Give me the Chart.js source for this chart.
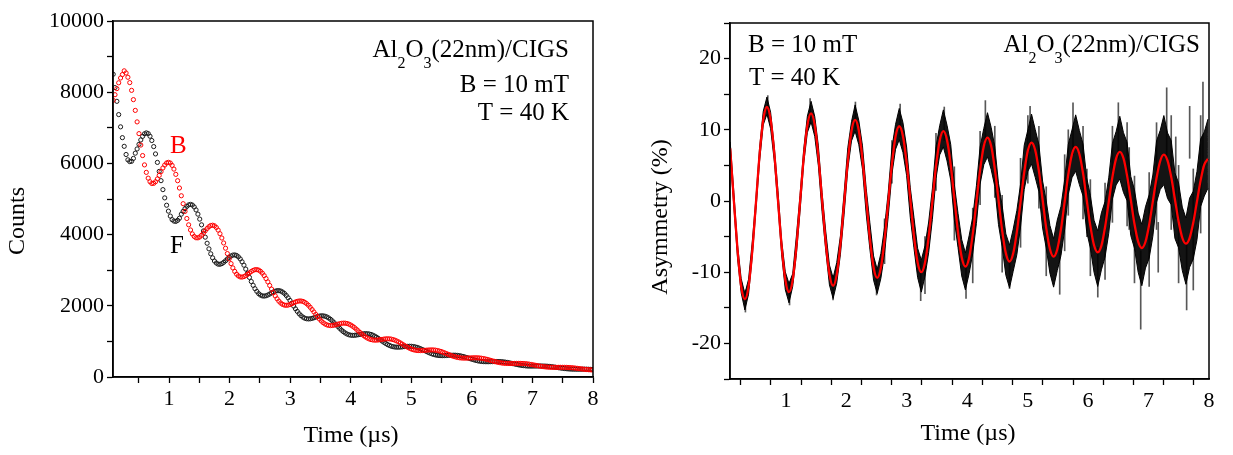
<!DOCTYPE html>
<html lang="en">

<head>
    <meta charset="UTF-8">
    <title>Al2O3(22nm)/CIGS - muSR</title>
    <script src="https://cdn.jsdelivr.net/npm/chart.js@4.4.1/dist/chart.umd.min.js"></script>
    <style>
        body { margin: 0; background: #fff; }
        #left { position: absolute; left: 0; top: 0; }
        #right { position: absolute; left: 616px; top: 0; }
    </style>
</head>

<body>
    <canvas id="left" width="616" height="455"></canvas>
    <canvas id="right" width="617" height="455"></canvas>

    <script>
        // time bins (us), shared by both panels
        const times = [
            0.078, 0.139, 0.200, 0.260, 0.321, 0.382, 0.443, 0.504, 0.564, 0.625,
            0.686, 0.747, 0.808, 0.868, 0.929, 0.990, 1.051, 1.112, 1.172, 1.233, 1.294, 1.355,
            1.416, 1.477, 1.537, 1.598, 1.659, 1.720, 1.781, 1.841, 1.902, 1.963, 2.024, 2.085,
            2.145, 2.206, 2.267, 2.328, 2.389, 2.450, 2.510, 2.571, 2.632, 2.693, 2.754, 2.814,
            2.875, 2.936, 2.997, 3.058, 3.118, 3.179, 3.240, 3.301, 3.362, 3.423, 3.483, 3.544,
            3.605, 3.666, 3.727, 3.787, 3.848, 3.909, 3.970, 4.031, 4.091, 4.152, 4.213, 4.274,
            4.335, 4.396, 4.456, 4.517, 4.578, 4.639, 4.700, 4.760, 4.821, 4.882, 4.943, 5.003,
            5.064, 5.125, 5.186, 5.247, 5.307, 5.368, 5.429, 5.490, 5.551, 5.612, 5.672, 5.733,
            5.794, 5.855, 5.916, 5.976, 6.037, 6.098, 6.159, 6.220, 6.280, 6.341, 6.402, 6.463,
            6.524, 6.585, 6.645, 6.706, 6.767, 6.828, 6.889, 6.949, 7.010, 7.071, 7.132, 7.193,
            7.253, 7.314, 7.375, 7.436, 7.497, 7.558, 7.618, 7.679, 7.740, 7.801, 7.862, 7.922,
            7.983
        ];
        // in-between bins of the count histograms
        const timesMid = [
            0.108, 0.169, 0.230, 0.291, 0.352, 0.412, 0.473, 0.534, 0.595, 0.656,
            0.716, 0.777, 0.838, 0.899, 0.960, 1.021, 1.081, 1.142, 1.203, 1.264, 1.324, 1.385,
            1.446, 1.507, 1.568, 1.629, 1.689, 1.750, 1.811, 1.872, 1.933, 1.993, 2.054, 2.115,
            2.176, 2.237, 2.297, 2.358, 2.419, 2.480, 2.541, 2.601, 2.662, 2.723, 2.784, 2.845,
            2.906, 2.966, 3.027, 3.088, 3.149, 3.210, 3.270, 3.331, 3.392, 3.453, 3.514, 3.574,
            3.635, 3.696, 3.757, 3.818, 3.879, 3.939, 4.000, 4.061, 4.122, 4.183, 4.243, 4.304,
            4.365, 4.426, 4.487, 4.548, 4.608, 4.669, 4.730, 4.791, 4.851, 4.912, 4.973, 5.034,
            5.095, 5.155, 5.216, 5.277, 5.338, 5.399, 5.459, 5.520, 5.581, 5.642, 5.703, 5.764,
            5.824, 5.885, 5.946, 6.007, 6.068, 6.128, 6.189, 6.250, 6.311, 6.372, 6.432, 6.493,
            6.554, 6.615, 6.676, 6.737, 6.797, 6.858, 6.919, 6.980, 7.041, 7.101, 7.162, 7.223,
            7.284, 7.345, 7.405, 7.466, 7.527, 7.588, 7.649, 7.710, 7.770, 7.831, 7.892, 7.953
        ];

        // forward counter (black)
        const countsF = [
            8504, 7744, 7027, 6480, 6100, 6060, 6287, 6535, 6760, 6857,
            6763, 6472, 6028, 5515, 5031, 4659, 4420, 4370, 4460, 4654, 4793, 4848,
            4777, 4575, 4274, 3928, 3600, 3347, 3201, 3167, 3220, 3315, 3399, 3429,
            3375, 3236, 3031, 2797, 2575, 2403, 2301, 2273, 2303, 2361, 2411, 2426,
            2386, 2290, 2151, 1992, 1842, 1724, 1653, 1631, 1647, 1681, 1711, 1717,
            1688, 1621, 1526, 1419, 1317, 1236, 1186, 1169, 1177, 1197, 1215, 1216,
            1195, 1148, 1084, 1010, 941, 886, 851, 838, 841, 853, 862, 862,
            846, 814, 769, 720, 672, 634, 610, 600, 601, 607, 612, 611,
            599, 577, 546, 512, 480, 454, 437, 430, 429, 432, 435, 433,
            424, 409, 388, 365, 343, 325, 313, 307, 307, 308, 309, 307,
            301, 290, 276, 260, 245, 233, 224, 220, 219, 219, 220, 218,
            213
        ];
        const countsFMid = [
            8129, 7371, 6723, 6250, 6050, 6140, 6406, 6659, 6831, 6838,
            6643, 6266, 5775, 5263, 4825, 4520, 4380, 4400, 4574, 4731, 4835, 4831,
            4693, 4435, 4103, 3757, 3461, 3258, 3170, 3184, 3265, 3362, 3424, 3414,
            3317, 3141, 2916, 2682, 2480, 2342, 2278, 2282, 2330, 2389, 2425, 2414,
            2346, 2225, 2072, 1914, 1777, 1682, 1636, 1635, 1663, 1698, 1719, 1708,
            1659, 1577, 1473, 1366, 1273, 1207, 1174, 1171, 1187, 1207, 1218, 1209,
            1175, 1118, 1047, 974, 911, 865, 842, 838, 846, 858, 864, 856,
            832, 793, 744, 695, 652, 620, 603, 599, 604, 610, 613, 606,
            589, 562, 530, 496, 466, 444, 432, 429, 431, 434, 435, 430,
            417, 399, 377, 354, 333, 318, 309, 306, 307, 309, 308, 305,
            296, 283, 268, 252, 238, 228, 221, 219, 219, 220, 219, 216
        ];

        // backward counter (red)
        const countsB = [
            7771, 8100, 8399, 8600, 8420, 8052, 7489, 6836, 6220, 5748,
            5485, 5440, 5564, 5769, 5954, 6030, 5944, 5692, 5309, 4868, 4452, 4130,
            3948, 3909, 3982, 4108, 4222, 4264, 4200, 4025, 3765, 3467, 3185, 2966,
            2839, 2807, 2849, 2926, 2995, 3016, 2968, 2848, 2671, 2469, 2278, 2129,
            2040, 2014, 2037, 2084, 2125, 2135, 2099, 2016, 1895, 1758, 1629, 1527,
            1465, 1444, 1456, 1484, 1508, 1512, 1485, 1427, 1345, 1252, 1164, 1094,
            1051, 1035, 1041, 1057, 1071, 1071, 1051, 1011, 955, 892, 832, 784,
            754, 742, 744, 753, 760, 759, 744, 717, 678, 635, 594, 562,
            540, 531, 531, 536, 540, 538, 527, 508, 482, 452, 424, 402,
            387, 380, 379, 382, 383, 381, 374, 360, 342, 322, 303, 288,
            277, 272, 271, 272, 272, 271, 265, 256, 243, 229, 216, 206,
            198
        ];
        const countsBMid = [
            7929, 8264, 8495, 8540, 8269, 7791, 7166, 6515, 5958, 5586,
            5435, 5484, 5662, 5871, 6012, 6011, 5840, 5514, 5091, 4652, 4275, 4019,
            3910, 3934, 4042, 4171, 4256, 4247, 4127, 3904, 3618, 3320, 3064, 2889,
            2811, 2820, 2885, 2964, 3014, 3003, 2917, 2765, 2571, 2370, 2196, 2076,
            2019, 2020, 2059, 2107, 2135, 2124, 2063, 1959, 1827, 1691, 1573, 1490,
            1450, 1447, 1469, 1498, 1513, 1503, 1460, 1389, 1299, 1207, 1126, 1069,
            1040, 1036, 1048, 1065, 1073, 1064, 1034, 985, 924, 861, 806, 766,
            745, 741, 748, 757, 761, 754, 732, 698, 657, 614, 576, 549,
            534, 530, 533, 538, 540, 534, 519, 496, 467, 438, 412, 393,
            382, 379, 380, 383, 383, 378, 368, 352, 332, 312, 295, 282,
            274, 271, 271, 272, 272, 268, 261, 250, 236, 223, 211, 202
        ];

        // asymmetry fit (%)
        const asymFit = [
            7.4, 0.0, -6.9, -12.0, -13.8, -12.0, -7.05, -0.3, 6.45, 11.4,
            13.2, 11.46, 6.7, 0.2, -6.3, -11.06, -12.8, -11.12, -6.53, -0.25, 6.03, 10.62,
            12.3, 10.68, 6.25, 0.2, -5.85, -10.28, -11.9, -10.34, -6.08, -0.25, 5.58, 9.84,
            11.4, 9.91, 5.85, 0.3, -5.25, -9.31, -10.8, -9.37, -5.48, -0.15, 5.18, 9.07,
            10.5, 9.13, 5.38, 0.25, -4.88, -8.63, -10.0, -8.67, -5.05, -0.1, 4.85, 8.47,
            9.8, 8.53, 5.05, 0.3, -4.45, -7.93, -9.2, -7.99, -4.68, -0.15, 4.38, 7.69,
            8.9, 7.73, 4.55, 0.2, -4.15, -7.33, -8.5, -7.38, -4.33, -0.15, 4.03, 7.08,
            8.2, 7.13, 4.2, 0.2, -3.8, -6.73, -7.8, -6.77, -3.95, -0.1, 3.75, 6.57,
            7.6, 6.61, 3.9, 0.2, -3.5, -6.21, -7.2, -6.26, -3.68, -0.15, 3.38, 5.95,
            6.9, 6.0, 3.53, 0.15, -3.23, -5.7, -6.6, -5.72, -3.33, -0.05, 3.23, 5.62,
            6.5, 5.66, 3.38, 0.25, -2.88, -5.16, -6.0, -5.2, -3.03, -0.05, 2.93, 5.1,
            5.9
        ];

        // spread of the measured asymmetry above / below the fit
        const asymErrUp = [
            0.9, 1.2, 0.7, 1.1, 0.8, 1.0, 1.3, 0.7, 1.0, 1.2,
            1.4, 1.0, 0.9, 1.3, 0.8, 1.1, 1.2, 0.9, 1.5, 1.0, 1.2, 1.3,
            1.7, 1.2, 1.5, 1.0, 1.6, 1.3, 1.1, 1.7, 1.2, 1.4, 1.9, 1.3,
            2.1, 1.4, 1.9, 1.5, 2.2, 1.6, 1.2, 2.0, 1.8, 1.4, 2.3, 1.7,
            2.5, 1.9, 2.2, 1.6, 2.6, 2.0, 1.7, 2.4, 2.1, 1.8, 2.8, 2.1,
            3.0, 2.1, 2.9, 2.0, 2.7, 2.5, 1.9, 3.1, 2.4, 2.3, 3.2, 2.5,
            3.5, 2.6, 3.1, 2.3, 3.5, 2.7, 2.3, 3.4, 3.0, 2.5, 3.8, 2.9,
            4.0, 2.9, 3.7, 2.6, 3.8, 3.3, 2.5, 4.1, 3.2, 3.1, 4.2, 3.4,
            4.5, 3.3, 4.1, 3.1, 4.3, 3.5, 3.0, 4.6, 3.6, 3.4, 4.7, 3.8,
            5.0, 3.6, 4.7, 3.3, 4.8, 4.0, 3.3, 4.9, 4.2, 3.7, 5.2, 4.3,
            5.5, 3.9, 5.1, 3.7, 5.4, 4.3, 3.6, 5.6, 4.4, 4.2, 5.8, 4.6,
            5.6
        ];
        const asymErrDn = [
            1.0, 0.8, 1.2, 0.9, 1.5, 1.1, 0.8, 1.0, 0.9, 0.7,
            1.0, 1.3, 1.1, 0.8, 1.2, 1.4, 1.5, 0.9, 1.1, 1.3, 0.8, 1.0,
            1.2, 1.6, 1.3, 1.7, 1.1, 1.5, 1.8, 1.2, 1.4, 1.6, 1.1, 1.4,
            1.6, 2.0, 1.4, 2.1, 1.5, 1.8, 2.2, 1.5, 1.9, 2.0, 1.4, 1.8,
            1.9, 2.3, 1.8, 2.6, 1.7, 2.1, 2.8, 1.9, 2.2, 2.5, 1.7, 2.0,
            2.2, 2.9, 2.1, 3.0, 2.1, 2.6, 3.3, 2.2, 2.7, 3.0, 2.0, 2.6,
            2.7, 3.3, 2.5, 3.5, 2.3, 3.1, 3.7, 2.5, 3.2, 3.5, 2.4, 2.9,
            3.0, 3.8, 2.9, 4.0, 2.8, 3.4, 4.3, 3.0, 3.7, 3.9, 2.8, 3.3,
            3.4, 4.3, 3.2, 4.5, 3.1, 3.8, 4.8, 3.4, 4.2, 4.4, 3.1, 3.7,
            3.8, 4.8, 3.5, 5.0, 3.4, 4.3, 5.3, 3.7, 4.7, 4.9, 3.4, 4.0,
            4.2, 5.3, 3.9, 5.5, 3.7, 4.6, 5.7, 4.1, 5.1, 5.4, 3.7, 4.4,
            4.1
        ];

        // isolated noisy bins (grey error bars)
        const spikeTimes = [0.33, 0.70, 1.06, 1.40, 1.78, 2.15, 2.50, 2.89, 3.23, 3.62, 3.98, 4.30,
            4.70, 5.04, 5.53, 5.75, 5.98, 6.16, 6.50, 6.68, 6.87, 7.16, 7.30, 7.45, 7.63, 7.68, 7.90,
            2.632, 2.754, 3.301, 3.483, 3.787, 4.091, 4.213, 4.456, 4.578, 4.882, 5.003, 5.186,
            5.307, 5.612, 5.672, 5.916, 6.037, 6.280, 6.402, 6.645, 6.767, 7.010, 7.132, 7.375,
            7.497, 7.740, 7.862];
        const spikeLo = [-15.6, 12.0, -14.6, 11.0, -13.9, 10.0, -13.2, 9.0, -14.0, 8.5, -13.7, 8.0,
            -12.3, 7.0, -13.1, 6.5, -5.0, -13.5, 6.0, -4.0, -18.0, -10.0, 6.0, -2.5, -15.3, 6.0, 5.0,
            -8.8, 2.5, -13.0, 1.5, -5.5, -11.5, -0.5, 0.5, -10.0, -6.5, 2.5, -1.0,
            -10.5, -7.0, -2.0, -2.5, -10.5, -11.0, -3.0, -3.5, -11.5, -12.0, -4.0, -4.0,
            -11.5, -12.5, -4.5];
        const spikeHi = [-12.5, 14.8, -11.5, 14.4, -10.5, 13.9, -9.5, 13.6, -8.5, 13.2, -8.0, 14.1,
            -7.0, 13.3, -6.0, 13.8, 4.5, -6.5, 13.8, 7.5, -7.0, -3.0, 15.9, 9.0, -6.0, 13.3, 16.7,
            -2.5, 8.5, -5.0, 9.5, 4.8, -1.0, 9.8, 10.5, 0.8, 6.0, 12.0, 10.5,
            2.0, 6.5, 10.0, 10.5, 3.0, 2.5, 10.5, 11.0, 3.5, 4.0, 11.0, 12.0,
            5.0, 4.5, 12.0];

        // ticks
        const timeTicks = [0.5, 1, 1.5, 2, 2.5, 3, 3.5, 4, 4.5, 5, 5.5, 6, 6.5, 7, 7.5, 8];
        const timeLabels = [1, 2, 3, 4, 5, 6, 7, 8];
        const countTicks = [0, 1000, 2000, 3000, 4000, 5000, 6000, 7000, 8000, 9000, 10000];
        const countLabels = [0, 2000, 4000, 6000, 8000, 10000];
        const asymTicks = [-25, -20, -15, -10, -5, 0, 5, 10, 15, 20, 25];
        const asymLabels = [-20, -10, 0, 10, 20];

        const SERIF = '"Liberation Serif", "Times New Roman", serif';
        Chart.defaults.font.family = SERIF;
        Chart.defaults.color = '#000';

        // frame + free text (titles, annotations with subscripts)
        const decor = {
            id: 'decor',
            afterDraw(chart, args, opts) {
                const ctx = chart.ctx;
                const a = chart.chartArea;
                ctx.save();
                ctx.strokeStyle = '#000';
                ctx.lineWidth = 1.5;
                ctx.strokeRect(a.left, a.top, a.right - a.left, a.bottom - a.top);
                (opts.texts || []).forEach(t => drawRich(ctx, t));
                ctx.restore();
            }
        };

        function drawRich(ctx, t) {
            const parts = t.parts || [[t.text, false]];
            const size = t.size || 24;
            const subSize = 16;
            const fontOf = sub => (sub ? subSize : size) + 'px ' + SERIF;
            ctx.save();
            ctx.fillStyle = t.color || '#000';
            if (t.rotate) {
                ctx.translate(t.x, t.y);
                ctx.rotate(-Math.PI / 2);
                ctx.font = fontOf(false);
                ctx.textAlign = 'center';
                ctx.textBaseline = 'middle';
                ctx.fillText(t.text, 0, 0);
                ctx.restore();
                return;
            }
            const widths = parts.map(p => { ctx.font = fontOf(p[1]); return ctx.measureText(p[0]).width; });
            const total = widths.reduce((s, w) => s + w, 0);
            let x = t.x;
            if (t.align === 'right') x -= total;
            else if (t.align === 'center') x -= total / 2;
            ctx.textAlign = 'left';
            ctx.textBaseline = 'alphabetic';
            parts.forEach((p, i) => {
                ctx.font = fontOf(p[1]);
                ctx.fillText(p[0], x, t.y + (p[1] ? 11 : 0));
                x += widths[i];
            });
            ctx.restore();
        }

        const sample = [['Al', false], ['2', true], ['O', false], ['3', true], ['(22nm)/CIGS', false]];

        function tickAxis(values, labels, extra) {
            return Object.assign({
                type: 'linear',
                offset: false,
                afterBuildTicks: s => { s.ticks = values.map(v => ({ value: v })); },
                ticks: {
                    autoSkip: false,
                    maxRotation: 0,
                    font: { size: 22 },
                    color: '#000',
                    callback: v => labels.includes(v) ? String(v) : ''
                },
                grid: { drawOnChartArea: false, drawTicks: true, tickLength: 6, tickColor: '#000', tickWidth: 1.3 },
                border: { display: true, color: '#000', width: 1.5 }
            }, extra);
        }

        const toXY = (xs, ys) => xs.map((t, i) => ({ x: t, y: ys[i] }));

        const ringStyle = color => ({
            showLine: false,
            pointStyle: 'circle',
            pointRadius: 2.1,
            pointBorderWidth: 1,
            pointBorderColor: color,
            pointBackgroundColor: 'rgba(255,255,255,0)'
        });

        // ---- left panel: raw counts ----
        new Chart(document.getElementById('left'), {
            type: 'line',
            data: {
                datasets: [
                    Object.assign({ label: 'B', data: toXY(times, countsB).concat(toXY(timesMid, countsBMid)) }, ringStyle('#ff0000')),
                    Object.assign({ label: 'F', data: toXY(times, countsF).concat(toXY(timesMid, countsFMid)) }, ringStyle('#1a1a1a'))
                ]
            },
            options: {
                responsive: false,
                animation: false,
                layout: { padding: { top: 21, right: 23, left: 0, bottom: 0 } },
                scales: {
                    x: tickAxis(timeTicks, timeLabels, {
                        min: 0.075, max: 8,
                        afterFit: s => { s.height = 78; }
                    }),
                    y: tickAxis(countTicks, countLabels, {
                        min: 0, max: 10000,
                        afterFit: s => { s.width = 113; }
                    })
                },
                plugins: {
                    legend: { display: false },
                    tooltip: { enabled: false },
                    decor: {
                        texts: [
                            { text: 'Counts', x: 18, y: 221, rotate: true, size: 24 },
                            { text: 'Time (µs)', x: 351, y: 442, align: 'center', size: 24 },
                            { parts: sample, x: 569, y: 57, align: 'right', size: 25 },
                            { text: 'B = 10 mT', x: 569, y: 92, align: 'right', size: 25 },
                            { text: 'T = 40 K', x: 569, y: 120, align: 'right', size: 25 },
                            { text: 'B', x: 170, y: 153, size: 25, color: '#ff0000' },
                            { text: 'F', x: 170, y: 253, size: 25 }
                        ]
                    }
                }
            },
            plugins: [decor]
        });

        // ---- right panel: asymmetry ----
        const asymHigh = asymFit.map((v, i) => v + asymErrUp[i]);
        const asymLow = asymFit.map((v, i) => v - asymErrDn[i]);

        new Chart(document.getElementById('right'), {
            type: 'line',
            data: {
                datasets: [{
                    label: 'fit',
                    data: toXY(times, asymFit),
                    borderColor: '#ff0000',
                    borderWidth: 2.3,
                    pointRadius: 0,
                    cubicInterpolationMode: 'monotone',
                    order: 0
                }, {
                    label: 'data high',
                    data: toXY(times, asymHigh),
                    borderColor: '#000',
                    borderWidth: 1,
                    pointRadius: 0,
                    tension: 0,
                    fill: '+1',
                    backgroundColor: 'rgba(0,0,0,0.92)',
                    order: 1
                }, {
                    label: 'data low',
                    data: toXY(times, asymLow),
                    borderColor: '#000',
                    borderWidth: 1,
                    pointRadius: 0,
                    tension: 0,
                    fill: false,
                    order: 2
                }, {
                    type: 'bar',
                    label: 'noise',
                    data: spikeTimes.map((t, i) => ({ x: t, y: [spikeLo[i], spikeHi[i]] })),
                    backgroundColor: 'rgba(70,70,70,0.9)',
                    barThickness: 1,
                    order: 3
                }]
            },
            options: {
                responsive: false,
                animation: false,
                layout: { padding: { top: 23, right: 24, left: 0, bottom: 0 } },
                scales: {
                    x: tickAxis(timeTicks, timeLabels, {
                        min: 0.075, max: 8,
                        afterFit: s => { s.height = 76; }
                    }),
                    y: tickAxis(asymTicks, asymLabels, {
                        min: -25, max: 25,
                        afterFit: s => { s.width = 114; }
                    })
                },
                plugins: {
                    legend: { display: false },
                    tooltip: { enabled: false },
                    decor: {
                        texts: [
                            { text: 'Asymmetry (%)', x: 45, y: 217, rotate: true, size: 24 },
                            { text: 'Time (µs)', x: 352, y: 440, align: 'center', size: 24 },
                            { text: 'B = 10 mT', x: 132, y: 52, size: 25 },
                            { text: 'T = 40 K', x: 133, y: 85, size: 25 },
                            { parts: sample, x: 584, y: 52, align: 'right', size: 25 }
                        ]
                    }
                }
            },
            plugins: [decor]
        });
    </script>
</body>

</html>
